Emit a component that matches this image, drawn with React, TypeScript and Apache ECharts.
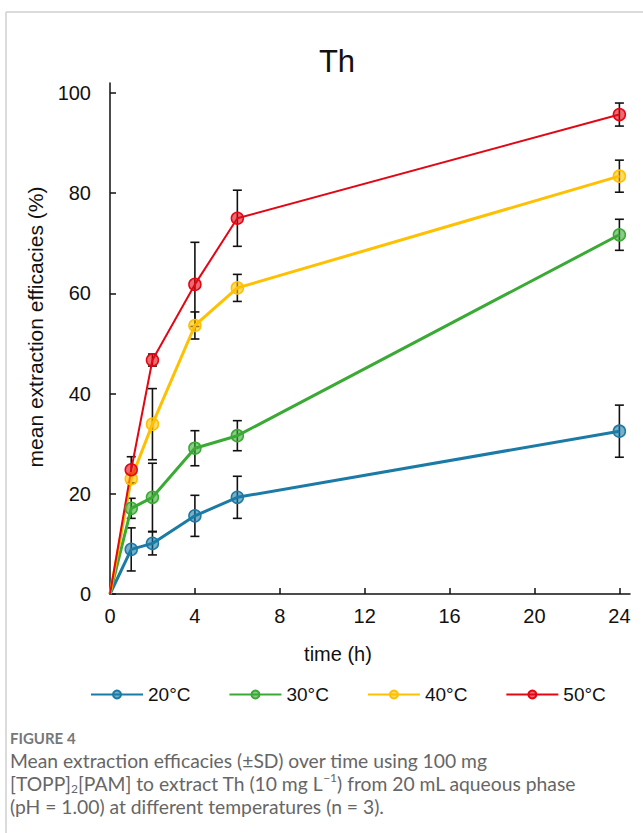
import React, { useEffect, useRef } from "react";
import * as echarts from "echarts";

const times = [1, 2, 4, 6, 24];
const seriesNames = ["20°C", "30°C", "40°C", "50°C"];
const colors = ["#1b7ba6", "#3aaa35", "#ffc000", "#e30613"];
const lineWidths = [3, 3, 3, 2];

const mean20 = [8.9, 10.1, 15.6, 19.3, 32.5];
const sd20 = [4.3, 2.3, 4.1, 4.2, 5.2];
const mean30 = [17.1, 19.3, 29.1, 31.6, 71.7];
const sd30 = [2.0, 6.8, 3.5, 3.0, 3.1];
const mean40 = [23.0, 33.9, 53.6, 61.1, 83.4];
const sd40 = [0.9, 7.1, 2.7, 2.7, 3.2];
const mean50 = [24.8, 46.7, 61.8, 75.0, 95.7];
const sd50 = [2.6, 1.2, 8.4, 5.6, 2.3];

const xTicks = [0, 4, 8, 12, 16, 20, 24];
const yTicks = [0, 20, 40, 60, 80, 100];

const means = [mean20, mean30, mean40, mean50];
const sds = [sd20, sd30, sd40, sd50];

function hexA(hex: string, a: number) {
  const r = parseInt(hex.slice(1, 3), 16);
  const g = parseInt(hex.slice(3, 5), 16);
  const b = parseInt(hex.slice(5, 7), 16);
  return `rgba(${r},${g},${b},${a})`;
}

export default function App() {
  const ref = useRef<HTMLDivElement>(null);
  useEffect(() => {
    if (!ref.current) return;
    const chart = echarts.init(ref.current, undefined, { renderer: "svg" });
    const FONT = "Liberation Sans, Arial, sans-serif";
    const CAP = "Lato, Open Sans, sans-serif";
    const CAPSIZE = 19.3;
    const CAPCOL = "#666";

    const errSeries = means.map((m, i) => ({
      type: "custom",
      name: "err" + i,
      z: 1,
      silent: true,
      encode: { x: 0, y: 1 },
      data: times.map((t, j) => [t, m[j], sds[i][j]]),
      renderItem: (params: any, api: any) => {
        const x = api.value(0);
        const v = api.value(1);
        const s = api.value(2);
        const top = api.coord([x, v + s]);
        const bot = api.coord([x, v - s]);
        const w = 4.5;
        const st = { stroke: "#111", lineWidth: 1.6 };
        return {
          type: "group",
          children: [
            { type: "line", shape: { x1: top[0], y1: top[1], x2: bot[0], y2: bot[1] }, style: st },
            { type: "line", shape: { x1: top[0] - w, y1: top[1], x2: top[0] + w, y2: top[1] }, style: st },
            { type: "line", shape: { x1: bot[0] - w, y1: bot[1], x2: bot[0] + w, y2: bot[1] }, style: st },
          ],
        };
      },
    }));

    const lineSeries = means.map((m, i) => ({
      type: "line",
      name: seriesNames[i],
      z: 3,
      symbol: "circle",
      symbolSize: 12,
      lineStyle: { color: colors[i], width: lineWidths[i] },
      itemStyle: { color: hexA(colors[i], 0.6), borderColor: colors[i], borderWidth: 1.5 },
      data: [
        { value: [0, 0], symbol: "none" },
        ...times.map((t, j) => [t, m[j]]),
      ],
    }));

    const caption2 =
      "{n|[TOPP]}{sub|2}{n|[PAM] to extract Th (10 mg L}{sup|−1}{n|) from 20 mL aqueous phase}";

    chart.setOption({
      animation: false,
      grid: { left: 110, right: 13, top: 83, bottom: 239, containLabel: false, outerBoundsMode: "none" },
      legend: {
        data: seriesNames,
        left: 85,
        top: 680,
        itemWidth: 52,
        itemHeight: 10,
        itemGap: 38,
        textStyle: { fontFamily: FONT, fontSize: 19, color: "#111" },
      },
      xAxis: {
        type: "value",
        min: 0,
        max: 24.5,
        axisLine: { lineStyle: { color: "#111", width: 1.5 } },
        axisTick: { inside: true, length: 6, customValues: xTicks, lineStyle: { color: "#111", width: 1.5 } },
        axisLabel: { customValues: xTicks, margin: 12, fontFamily: FONT, fontSize: 20, color: "#111" },
        splitLine: { show: false },
      },
      yAxis: {
        type: "value",
        min: 0,
        max: 102,
        axisLine: { show: true, lineStyle: { color: "#111", width: 1.5 } },
        axisTick: { show: true, inside: true, length: 6, customValues: yTicks, lineStyle: { color: "#111", width: 1.5 } },
        axisLabel: { customValues: yTicks, margin: 19, fontFamily: FONT, fontSize: 20, color: "#111" },
        splitLine: { show: false },
      },
      graphic: [
        { type: "line", shape: { x1: 6, y1: 12, x2: 643, y2: 12 }, style: { stroke: "#cfcfcf", lineWidth: 1.5 } },
        { type: "line", shape: { x1: 6, y1: 12, x2: 6, y2: 833 }, style: { stroke: "#cfcfcf", lineWidth: 1.5 } },
        {
          type: "text", x: 337, y: 61,
          style: { text: "Th", fontFamily: FONT, fontSize: 31, fill: "#111", align: "center", verticalAlign: "middle" },
        },
        {
          type: "text", x: 338, y: 654,
          style: { text: "time (h)", fontFamily: FONT, fontSize: 20, fill: "#111", align: "center", verticalAlign: "middle" },
        },
        {
          type: "text", x: 35, y: 327, rotation: Math.PI / 2,
          style: { text: "mean extraction efficacies (%)", fontFamily: FONT, fontSize: 21, fill: "#111", align: "center", verticalAlign: "middle" },
        },
        {
          type: "text", x: 10, y: 738,
          style: { text: "FIGURE 4", fontFamily: CAP, fontWeight: "bold", fontSize: 15, fill: "#777", align: "left", verticalAlign: "middle" },
        },
        {
          type: "text", x: 10, y: 760,
          style: { text: "Mean extraction efficacies (±SD) over time using 100 mg", fontFamily: CAP, fontSize: CAPSIZE, fill: CAPCOL, align: "left", verticalAlign: "middle" },
        },
        {
          type: "text", x: 10, y: 771.5,
          style: {
            text: caption2,
            fill: CAPCOL,
            align: "left",
            verticalAlign: "top",
            rich: {
              n: { fontFamily: CAP, fontSize: CAPSIZE, fill: CAPCOL, lineHeight: 23 },
              sub: { fontFamily: CAP, fontSize: 12, fill: CAPCOL, lineHeight: 12, verticalAlign: "bottom" },
              sup: { fontFamily: CAP, fontSize: 12, fill: CAPCOL, lineHeight: 12, verticalAlign: "top" },
            },
          },
        },
        {
          type: "text", x: 10, y: 806,
          style: { text: "(pH = 1.00) at different temperatures (n = 3).", fontFamily: CAP, fontSize: CAPSIZE, fill: CAPCOL, align: "left", verticalAlign: "middle" },
        },
      ],
      series: [...errSeries, ...lineSeries],
    });
    return () => chart.dispose();
  }, []);
  return <div ref={ref} style={{ position: "absolute", left: 0, top: 0, width: 643, height: 833 }} />;
}
